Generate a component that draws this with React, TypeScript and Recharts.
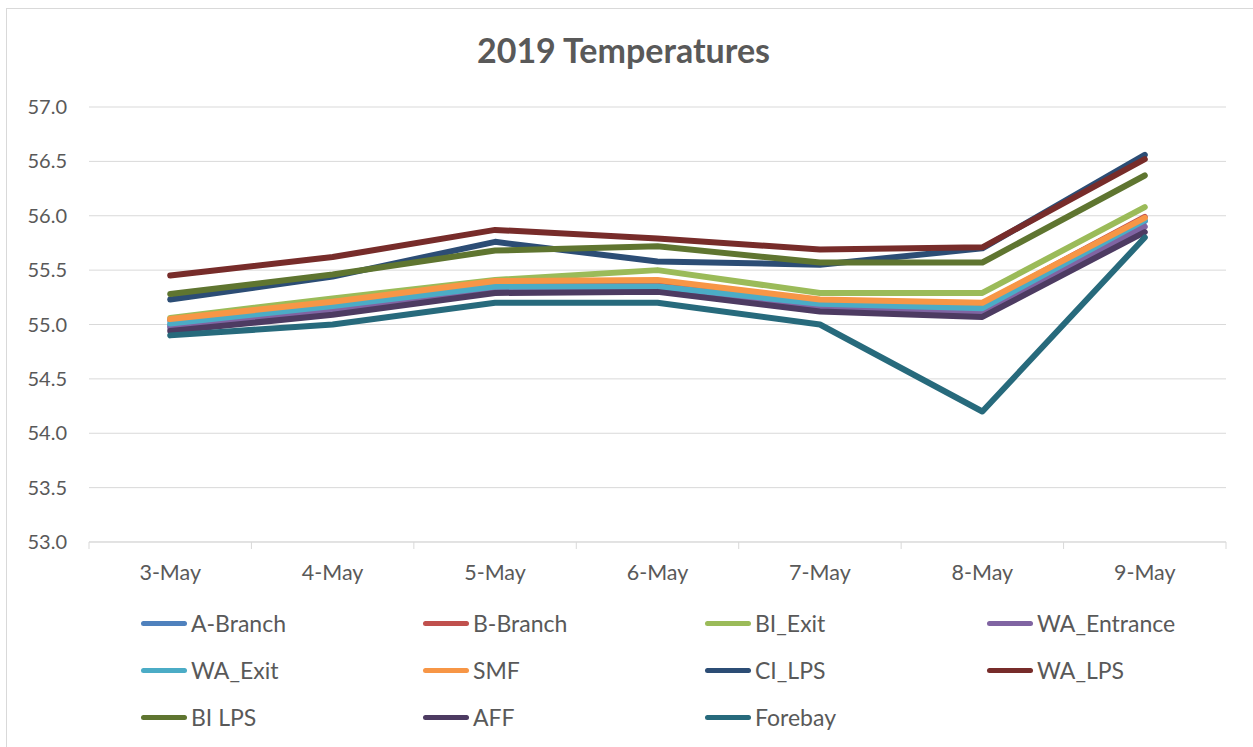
import React from "react";
import { LineChart, Line, XAxis, YAxis, CartesianGrid } from "recharts";

const categories = ["3-May", "4-May", "5-May", "6-May", "7-May", "8-May", "9-May"];

const aBranch = [54.99, 55.15, 55.34, 55.34, 55.17, 55.14, 55.95];
const bBranch = [55.04, 55.2, 55.39, 55.4, 55.22, 55.19, 55.99];
const biExit = [55.06, 55.24, 55.41, 55.5, 55.29, 55.29, 56.08];
const waEntrance = [54.97, 55.13, 55.32, 55.32, 55.15, 55.11, 55.9];
const waExit = [55.01, 55.17, 55.35, 55.35, 55.19, 55.15, 55.96];
const smf = [55.05, 55.21, 55.4, 55.41, 55.23, 55.2, 55.98];
const ciLps = [55.23, 55.44, 55.76, 55.58, 55.55, 55.7, 56.56];
const waLps = [55.45, 55.62, 55.87, 55.79, 55.69, 55.71, 56.52];
const biLps = [55.28, 55.46, 55.68, 55.72, 55.57, 55.57, 56.37];
const aff = [54.94, 55.09, 55.29, 55.3, 55.12, 55.07, 55.85];
const forebay = [54.9, 55.0, 55.2, 55.2, 55.0, 54.2, 55.8];

const yTicks = [53, 53.5, 54, 54.5, 55, 55.5, 56, 56.5, 57];

const series = [
  { name: "A-Branch", values: aBranch, color: "#4F81BD" },
  { name: "B-Branch", values: bBranch, color: "#C0504D" },
  { name: "BI_Exit", values: biExit, color: "#9BBB59" },
  { name: "WA_Entrance", values: waEntrance, color: "#8064A2" },
  { name: "WA_Exit", values: waExit, color: "#4BACC6" },
  { name: "SMF", values: smf, color: "#F79646" },
  { name: "CI_LPS", values: ciLps, color: "#2C4D75" },
  { name: "WA_LPS", values: waLps, color: "#772C2A" },
  { name: "BI LPS", values: biLps, color: "#5F7530" },
  { name: "AFF", values: aff, color: "#4D3B62" },
  { name: "Forebay", values: forebay, color: "#276A7C" },
];

const data = categories.map((day, i) => {
  const row: Record<string, string | number> = { day };
  series.forEach((s) => {
    row[s.name] = s.values[i];
  });
  return row;
});

const W = 1253;
const H = 747;
const LEFT = 89;
const RIGHT = 27;
const PLOT_W = W - LEFT - RIGHT;
const STEP = PLOT_W / categories.length;
const TEXT = "#595959";
const FONT = "Lato, 'Open Sans', sans-serif";

function XTick(props: any) {
  const { x, y, payload, index } = props;
  const axisY = y - 23;
  return (
    <g>
      <line x1={x - STEP / 2} x2={x - STEP / 2} y1={axisY} y2={axisY + 7} stroke="#d9d9d9" />
      {index === categories.length - 1 && (
        <line x1={x + STEP / 2} x2={x + STEP / 2} y1={axisY} y2={axisY + 7} stroke="#d9d9d9" />
      )}
      <text x={x} y={y} dy="0.71em" textAnchor="middle" fill={TEXT} fontSize={21.5} fontFamily={FONT}>
        {payload.value}
      </text>
    </g>
  );
}

export default function App() {
  return (
    <div style={{ position: "absolute", left: 0, top: 0, width: W, height: H, background: "#fff", fontFamily: FONT }}>
      <div
        style={{
          position: "absolute",
          left: 6,
          top: 8,
          width: 1250,
          height: 742,
          border: "1px solid #d9d9d9",
          boxSizing: "border-box",
        }}
      />
      <div
        style={{
          position: "absolute",
          left: 0,
          width: W - 6,
          top: 28,
          textAlign: "center",
          fontSize: 34,
          fontWeight: 700,
          color: TEXT,
          lineHeight: "44px",
        }}
      >
        2019 Temperatures
      </div>
      <div style={{ position: "absolute", left: 0, top: 0 }}>
        <LineChart width={W} height={H} data={data} margin={{ top: 107, right: RIGHT, bottom: 175, left: 0 }}>
          <CartesianGrid vertical={false} stroke="#d9d9d9" strokeWidth={1} />
          <XAxis
            dataKey="day"
            height={30}
            padding={{ left: STEP / 2, right: STEP / 2 }}
            axisLine={{ stroke: "#d9d9d9" }}
            tickLine={false}
            tickSize={0}
            tickMargin={23}
            tick={<XTick />}
            interval={0}
          />
          <YAxis
            width={LEFT}
            domain={[53, 57]}
            ticks={yTicks}
            axisLine={false}
            tickLine={false}
            tickSize={0}
            tickMargin={22}
            tickFormatter={(v: number) => v.toFixed(1)}
            tick={{ fill: TEXT, fontSize: 20, fontFamily: FONT }}
          />
          {series.map((s) => (
            <Line
              key={s.name}
              type="linear"
              dataKey={s.name}
              stroke={s.color}
              strokeWidth={6}
              strokeLinecap="round"
              strokeLinejoin="round"
              dot={false}
              activeDot={false}
              isAnimationActive={false}
            />
          ))}
        </LineChart>
      </div>
      {series.map((s, i) => {
        const col = i % 4;
        const row = Math.floor(i / 4);
        return (
          <div
            key={s.name}
            style={{
              position: "absolute",
              left: 141 + col * 282,
              top: 623 + row * 47 - 15,
              height: 30,
              display: "flex",
              alignItems: "center",
              color: TEXT,
              fontSize: 23,
              whiteSpace: "nowrap",
            }}
          >
            <span
              style={{
                display: "inline-block",
                width: 46,
                height: 5,
                borderRadius: 3,
                background: s.color,
                marginRight: 4,
              }}
            />
            {s.name}
          </div>
        );
      })}
    </div>
  );
}
